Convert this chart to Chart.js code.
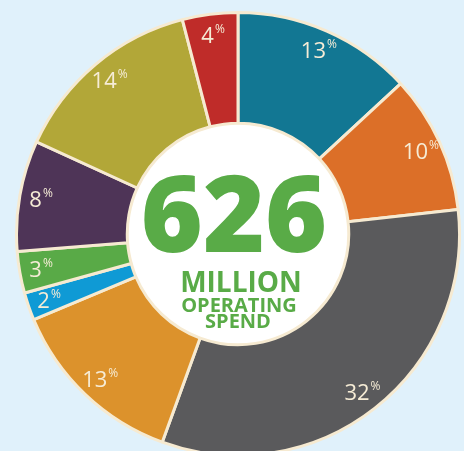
<!DOCTYPE html>
<html lang="en">
<head>
    <meta charset="UTF-8">
    <title>Operating Spend</title>
    <script src="https://cdn.jsdelivr.net/npm/chart.js@4.4.1/dist/chart.umd.min.js"></script>
    <style>
        html, body {
            margin: 0;
            padding: 0;
            width: 464px;
            height: 451px;
            overflow: hidden;
            background: #e0f1fb;
        }
        .chart-box {
            position: absolute;
            left: 15px;
            top: 11px;
            width: 446px;
            height: 446px;
        }
    </style>
</head>
<body>
    <div class="chart-box">
        <canvas id="spendChart"></canvas>
    </div>

    <script>
        // Share of operating spend, clockwise from 12 o'clock
        const shares = [13, 10, 32, 13, 2, 3, 8, 14, 4];
        const sliceColors = ['#127793', '#dc6f28', '#5a5a5c', '#dc922c', '#0f9ad5', '#59aa47', '#4e3457', '#b2a738', '#bf2c29'];
        const centerLines = ['626', 'MILLION', 'OPERATING', 'SPEND'];

        const cream = '#f6ead1';
        const green = '#59ab47';
        const font = '"Open Sans", "Noto Sans", sans-serif';

        // white disc in the hole
        const centerDisc = {
            id: 'centerDisc',
            beforeDatasetsDraw(chart) {
                const arc = chart.getDatasetMeta(0).data[0];
                const ctx = chart.ctx;
                ctx.save();
                ctx.beginPath();
                ctx.arc(arc.x, arc.y, arc.innerRadius, 0, Math.PI * 2);
                ctx.fillStyle = '#ffffff';
                ctx.fill();
                ctx.restore();
            },
            afterDatasetsDraw(chart) {
                const arc = chart.getDatasetMeta(0).data[0];
                const ctx = chart.ctx;
                ctx.save();
                ctx.fillStyle = green;
                ctx.textAlign = 'center';
                ctx.textBaseline = 'alphabetic';
                ctx.font = '800 106px ' + font;
                ctx.fillText(centerLines[0], arc.x - 4, arc.y + 18);
                ctx.font = 'bold 28px ' + font;
                ctx.fillText(centerLines[1], arc.x + 3, arc.y + 58);
                ctx.font = 'bold 20px ' + font;
                ctx.fillText(centerLines[2], arc.x + 1, arc.y + 78);
                ctx.fillText(centerLines[3], arc.x, arc.y + 94);
                ctx.restore();
            }
        };

        // percentage labels with a raised % sign
        const sliceLabels = {
            id: 'sliceLabels',
            afterDatasetsDraw(chart) {
                const ctx = chart.ctx;
                const meta = chart.getDatasetMeta(0);
                ctx.save();
                ctx.fillStyle = '#f6ecd6';
                ctx.textBaseline = 'alphabetic';
                meta.data.forEach((arc, i) => {
                    const p = arc.getProps(['x', 'y', 'startAngle', 'endAngle', 'innerRadius', 'outerRadius']);
                    const mid = (p.startAngle + p.endAngle) / 2;
                    const r = p.innerRadius + (p.outerRadius - p.innerRadius) * 0.81;
                    const cx = p.x + Math.cos(mid) * r;
                    const cy = p.y + Math.sin(mid) * r;
                    const num = String(shares[i]);
                    ctx.font = '500 22px ' + font;
                    const w1 = ctx.measureText(num).width;
                    ctx.font = '500 12px ' + font;
                    const w2 = ctx.measureText('%').width;
                    const x0 = cx - (w1 + w2) / 2;
                    ctx.font = '500 22px ' + font;
                    ctx.textAlign = 'left';
                    ctx.fillText(num, x0, cy + 8);
                    ctx.font = '500 12px ' + font;
                    ctx.fillText('%', x0 + w1 + 1, cy - 2);
                });
                ctx.restore();
            }
        };

        new Chart(document.getElementById('spendChart'), {
            type: 'doughnut',
            data: {
                labels: shares.map(s => s + '%'),
                datasets: [{
                    data: shares,
                    backgroundColor: sliceColors,
                    borderColor: cream,
                    borderWidth: 3
                }]
            },
            options: {
                responsive: true,
                maintainAspectRatio: false,
                animation: false,
                cutout: '50%',
                layout: { padding: 0 },
                plugins: {
                    legend: { display: false },
                    tooltip: { enabled: false }
                }
            },
            plugins: [centerDisc, sliceLabels]
        });
    </script>
</body>
</html>
